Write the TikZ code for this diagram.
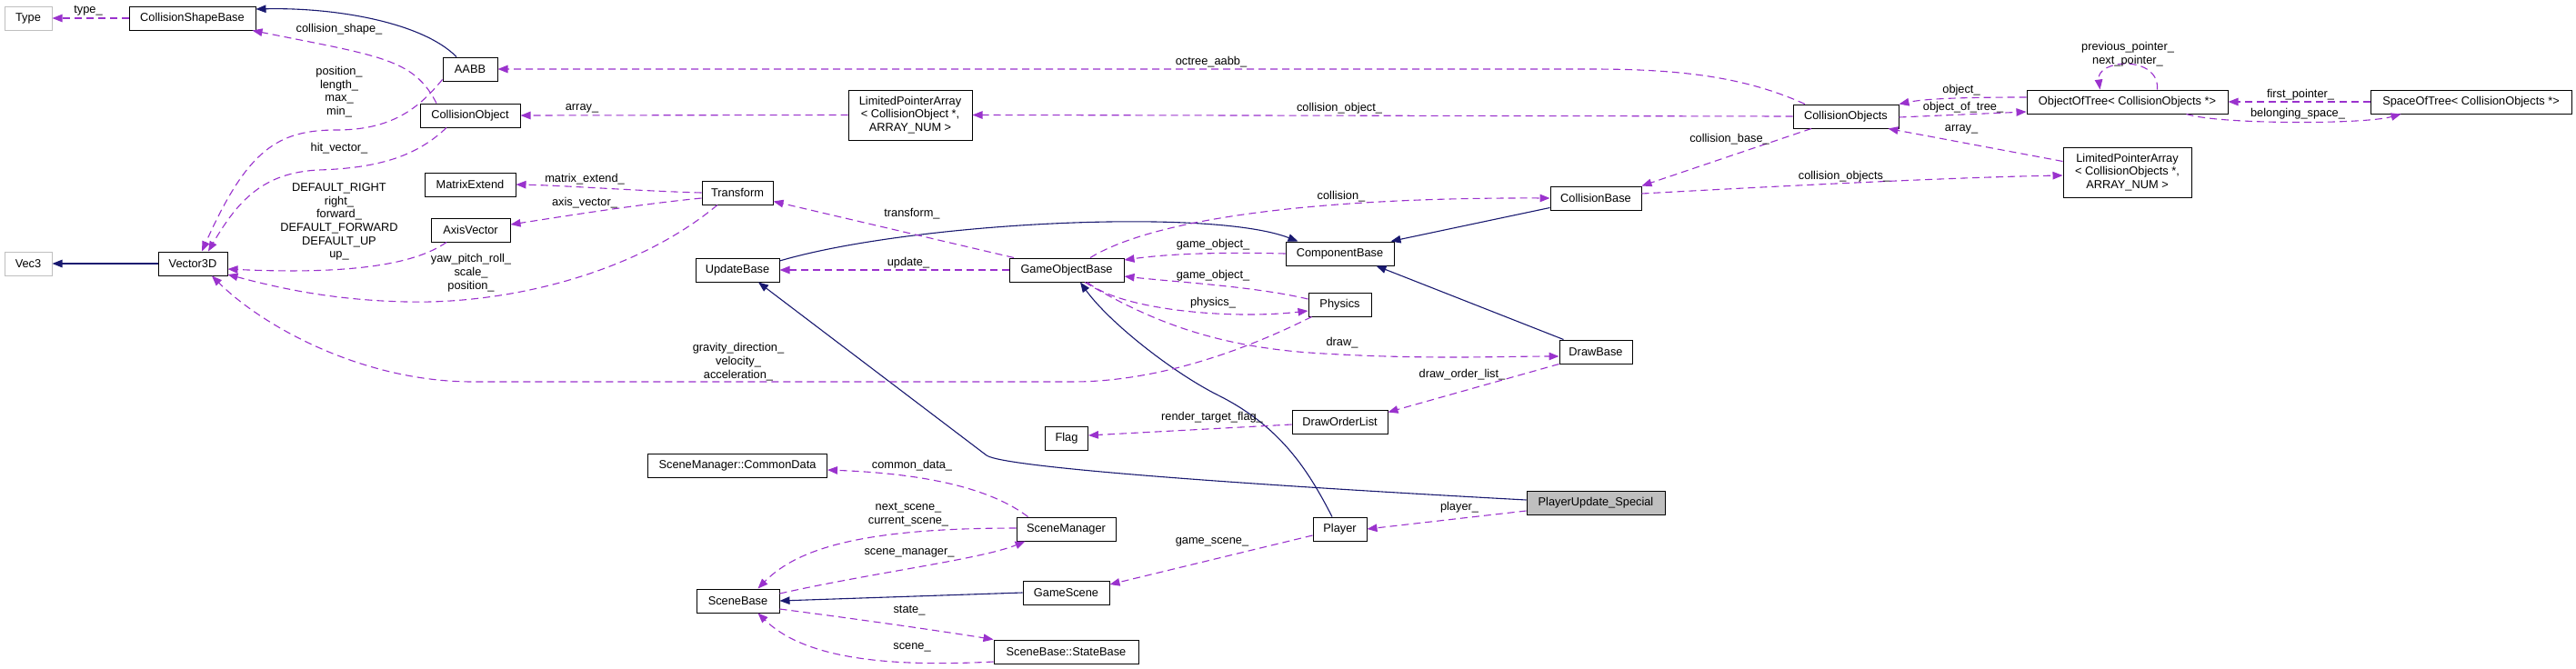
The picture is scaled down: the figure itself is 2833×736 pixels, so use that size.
\documentclass[tikz,border=0pt]{standalone}
\usepackage{fontspec}
\setmainfont{Liberation Sans}
\usetikzlibrary{arrows.meta}
\definecolor{inhblue}{HTML}{191970}
\definecolor{usepurple}{HTML}{9A32CD}
\definecolor{grayfill}{HTML}{BFBFBF}
\begin{document}
\begin{tikzpicture}[x=1pt,y=-1pt,
  every node/.style={font=\fontsize{12.8}{14.7}\selectfont, inner sep=0pt},
  box/.style={draw=black, fill=white, line width=1pt, minimum height=26pt, align=center},
  gbox/.style={box, draw=grayfill},
  lbl/.style={align=center, text=black},
  inh/.style={draw=inhblue, line width=1.1pt, -{Triangle[length=11pt,width=8.5pt,fill=inhblue]}},
  use/.style={draw=usepurple, line width=1.1pt, dash pattern=on 8pt off 5pt, -{Triangle[length=11pt,width=8.5pt,fill=usepurple]}}]
\useasboundingbox[fill=white] (0,0) rectangle (2833,736);

% nodes
\node[gbox, minimum width=52pt] (type) at (31,20) {Type};
\node[box, minimum width=139pt] (csb) at (211.5,20) {CollisionShapeBase};
\node[box, minimum width=60pt] (aabb) at (517,76) {AABB};
\node[box, minimum width=110pt] (coll) at (517,127) {CollisionObject};
\node[box, minimum width=100pt] (mext) at (517,203) {MatrixExtend};
\node[box, minimum width=87pt] (axv) at (517.5,253) {AxisVector};
\node[gbox, minimum width=52pt] (vec3) at (31,290) {Vec3};
\node[box, minimum width=76pt] (v3d) at (212,290) {Vector3D};
\node[box, minimum width=136pt, minimum height=55pt] (lpa1) at (1001,126.5) {LimitedPointerArray\\{}< CollisionObject *,\\ARRAY\_NUM >};
\node[box, minimum width=78pt] (trans) at (811,212) {Transform};
\node[box, minimum width=92pt] (upd) at (811,297) {UpdateBase};
\node[box, minimum width=126pt] (gob) at (1173,297) {GameObjectBase};
\node[box, minimum width=119pt] (comp) at (1473.5,279) {ComponentBase};
\node[box, minimum width=69pt] (phys) at (1473.5,335) {Physics};
\node[box, minimum width=100pt] (cbase) at (1755,218) {CollisionBase};
\node[box, minimum width=80pt] (drawb) at (1755,387) {DrawBase};
\node[box, minimum width=105pt] (dol) at (1473.5,464) {DrawOrderList};
\node[box, minimum width=47pt] (flag) at (1173,482) {Flag};
\node[box, minimum width=197pt] (cdata) at (811,512) {SceneManager::CommonData};
\node[box, minimum width=109pt] (sman) at (1172.5,582) {SceneManager};
\node[box, minimum width=59pt] (player) at (1473.5,582) {Player};
\node[box, fill=grayfill, minimum width=152pt] (pus) at (1755,553) {PlayerUpdate\_Special};
\node[box, minimum width=95pt] (gscene) at (1172.5,652) {GameScene};
\node[box, minimum width=91pt] (sbase) at (811.5,661) {SceneBase};
\node[box, minimum width=159pt] (sbstate) at (1172.5,717) {SceneBase::StateBase};
\node[box, minimum width=116pt] (cobjs) at (2030,128) {CollisionObjects};
\node[box, minimum width=221pt] (oot) at (2339.5,112) {ObjectOfTree< CollisionObjects *>};
\node[box, minimum width=221pt] (sot) at (2717.5,112) {SpaceOfTree< CollisionObjects *>};
\node[box, minimum width=141pt, minimum height=55pt] (lpa2) at (2339.5,189.5) {LimitedPointerArray\\{}< CollisionObjects *,\\ARRAY\_NUM >};

% inheritance
\draw[inh] ([xshift=-15pt]aabb.north) .. controls (465,25) and (370,8) .. ([yshift=10pt]csb.east);
\draw[inh] (v3d.west) -- (vec3.east);
\draw[inh] ([yshift=10pt]upd.east) .. controls (1000,245) and (1330,228) .. ([xshift=-46pt]comp.north);
\draw[inh] ([yshift=3pt]cbase.south west) -- ([xshift=-4pt]comp.north east);
\draw[inh] ([xshift=5pt]drawb.north west) -- ([xshift=40pt]comp.south);
\draw[inh] ([yshift=3pt]pus.west) .. controls (1400,535) and (1105,515) .. (1085,501) -- ([xshift=23pt]upd.south);
\draw[inh] ([xshift=-8.5pt]player.north) .. controls (1440,520) and (1410,470) .. (1340,435) .. controls (1290,410) and (1220,355) .. ([xshift=15pt]gob.south);
\draw[inh] (gscene.west) -- (sbase.east);

% usage
\draw[use] (csb.west) -- (type.east);
\node[lbl] (l1) at (97,12) {type\_};
\draw[use] ([xshift=-37pt]coll.north) .. controls (455,65) and (420,62) .. ([xshift=-4pt]csb.south east);
\node[lbl] (l2) at (373,32) {collision\_shape\_};
\draw[use] ([yshift=2pt]aabb.south west) .. controls (460,120) and (430,143) .. (370,143) .. controls (305,143) and (272,165) .. ([xshift=10pt]v3d.north);
\node[lbl] (l3) at (373,101) {position\_\\length\_\\max\_\\min\_};
\draw[use] ([xshift=-26pt]coll.south) .. controls (460,170) and (420,185) .. (350,187) .. controls (290,190) and (262,220) .. ([xshift=17pt]v3d.north);
\node[lbl] (l4) at (373,163) {hit\_vector\_};
\draw[use] ([xshift=-26.5pt]axv.south) .. controls (455,292) and (380,302) .. ([yshift=-6pt]v3d.east);
\node[lbl] (l5) at (373,244) {DEFAULT\_RIGHT\\right\_\\forward\_\\DEFAULT\_FORWARD\\DEFAULT\_UP\\up\_};
\draw[use] ([xshift=-22pt]trans.south) .. controls (700,300) and (560,335) .. (446,332) .. controls (360,330) and (300,315) .. ([yshift=-12pt]v3d.east);
\node[lbl] (l6) at (518,300) {yaw\_pitch\_roll\_\\scale\_\\position\_};
\draw[use] ([xshift=4pt]phys.south west) .. controls (1380,380) and (1280,420) .. (1180,420) -- (520,420) .. controls (400,420) and (290,360) .. ([xshift=21pt]v3d.south);
\node[lbl] (l7) at (812,398) {gravity\_direction\_\\velocity\_\\acceleration\_};
\draw[use] (lpa1.west) -- (coll.east);
\node[lbl] (l8) at (640,119) {array\_};
\draw[use] (trans.west) .. controls (700,210) and (620,204) .. (mext.east);
\node[lbl] (l9) at (643,197) {matrix\_extend\_};
\draw[use] ([yshift=-6pt]trans.west) .. controls (700,225) and (620,238) .. ([yshift=6pt]axv.east);
\node[lbl] (l10) at (643,223) {axis\_vector\_};
\draw[use] ([xshift=-45pt]cobjs.north) .. controls (1920,85) and (1850,76) .. (1750,76) -- (aabb.east);
\node[lbl] (l11) at (1332,68) {octree\_aabb\_};
\draw[use] (cobjs.west) -- (lpa1.east);
\node[lbl] (l12) at (1473,119) {collision\_object\_};
\draw[use] ([xshift=-58pt]gob.north) -- ([yshift=4pt]trans.south east);
\node[lbl] (l13) at (1003,235) {transform\_};
\draw[use] ([xshift=26pt]gob.north) .. controls (1270,240) and (1450,217) .. (cbase.west);
\node[lbl] (l14) at (1475,216) {collision\_};
\draw[use] (comp.west) .. controls (1330,277) and (1280,280) .. ([yshift=11pt]gob.east);
\node[lbl] (l15) at (1334,269) {game\_object\_};
\draw[use] (gob.west) -- (upd.east);
\node[lbl] (l16) at (999,289) {update\_};
\draw[use] ([yshift=6pt]phys.west) .. controls (1380,315) and (1290,310) .. ([yshift=-7pt]gob.east);
\node[lbl] (l17) at (1334,303) {game\_object\_};
\draw[use] ([xshift=23pt]gob.south) .. controls (1230,340) and (1350,352) .. ([yshift=-7pt]phys.west);
\node[lbl] (l18) at (1334,333) {physics\_};
\draw[use] ([xshift=20pt]gob.south) .. controls (1260,350) and (1330,380) .. (1440,388) .. controls (1560,396) and (1650,392) .. ([yshift=-5pt]drawb.west);
\node[lbl] (l19) at (1476,377) {draw\_};
\draw[use] (drawb.south west) -- ([yshift=-3pt]dol.north east);
\node[lbl] (l20) at (1608,412) {draw\_order\_list\_};
\draw[use] ([yshift=-3pt]dol.west) -- ([yshift=3pt]flag.east);
\node[lbl] (l21) at (1333,459) {render\_target\_flag\_};
\draw[use] ([xshift=-38pt]cobjs.south) -- (cbase.north east);
\node[lbl] (l22) at (1902,153) {collision\_base\_};
\draw[use] ([yshift=5pt]cbase.east) .. controls (1950,205) and (2150,195) .. ([yshift=-3.5pt]lpa2.west);
\node[lbl] (l23) at (2028,194) {collision\_objects\_};
\draw[use] ([yshift=12pt]lpa2.west) -- ([xshift=-12pt]cobjs.south east);
\node[lbl] (l24) at (2157,142) {array\_};
\draw[use] ([yshift=5pt]oot.west) .. controls (2170,107) and (2120,108) .. (cobjs.north east);
\node[lbl] (l25) at (2157,99) {object\_};
\draw[use] ([yshift=-1pt]cobjs.east) -- ([yshift=-11pt]oot.west);
\node[lbl] (l26) at (2159,118) {object\_of\_tree\_};
\draw[use] ([xshift=33pt]oot.north) .. controls (2375,60) and (2305,65) .. ([xshift=-30pt]oot.north);
\node[lbl] (l27) at (2340,60) {previous\_pointer\_\\next\_pointer\_};
\draw[use] (sot.west) -- (oot.east);
\node[lbl] (l28) at (2530,104) {first\_pointer\_};
\draw[use] ([xshift=65pt]oot.south) .. controls (2440,137) and (2600,137) .. ([xshift=-77pt]sot.south);
\node[lbl] (l29) at (2527,125) {belonging\_space\_};
\draw[use] ([xshift=-42pt]sman.north) .. controls (1080,530) and (990,520) .. ([yshift=-5pt]cdata.east);
\node[lbl] (l30) at (1003,512) {common\_data\_};
\draw[use] ([yshift=1pt]sman.west) .. controls (960,581) and (880,600) .. ([xshift=22pt]sbase.north);
\node[lbl] (l31) at (999,566) {next\_scene\_\\current\_scene\_};
\draw[use] ([yshift=8pt]sbase.east) .. controls (960,630) and (1080,615) .. ([xshift=-45pt]sman.south);
\node[lbl] (l32) at (1000,608) {scene\_manager\_};
\draw[use] ([yshift=-7pt]player.west) -- ([yshift=9pt]gscene.east);
\node[lbl] (l33) at (1333,596) {game\_scene\_};
\draw[use] ([yshift=-9pt]pus.west) -- (player.east);
\node[lbl] (l34) at (1605,558) {player\_};
\draw[use] ([yshift=-9pt]sbase.east) .. controls (950,682) and (1040,695) .. (sbstate.north west);
\node[lbl] (l35) at (1000,672) {state\_};
\draw[use] ([yshift=-11pt]sbstate.west) .. controls (960,735) and (880,720) .. ([xshift=22pt]sbase.south);
\node[lbl] (l36) at (1003,712) {scene\_};
\end{tikzpicture}
\end{document}
